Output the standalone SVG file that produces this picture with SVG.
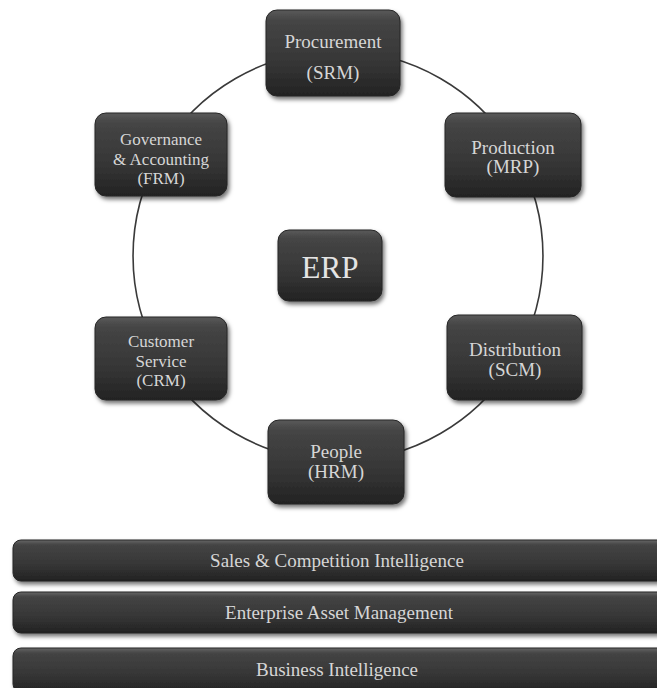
<svg xmlns="http://www.w3.org/2000/svg" width="657" height="688" viewBox="0 0 657 688">
  <defs>
    <linearGradient id="boxFill" x1="0" y1="0" x2="0" y2="1">
      <stop offset="0" stop-color="#5a5a5a"/>
      <stop offset="0.12" stop-color="#454545"/>
      <stop offset="0.6" stop-color="#363636"/>
      <stop offset="1" stop-color="#232323"/>
    </linearGradient>
    <linearGradient id="barFill" x1="0" y1="0" x2="0" y2="1">
      <stop offset="0" stop-color="#666666"/>
      <stop offset="0.12" stop-color="#444444"/>
      <stop offset="0.6" stop-color="#363636"/>
      <stop offset="1" stop-color="#222222"/>
    </linearGradient>
    <filter id="shadow" x="-10%" y="-10%" width="125%" height="130%">
      <feDropShadow dx="2" dy="3" stdDeviation="2.2" flood-color="#000" flood-opacity="0.55"/>
    </filter>
    <style>
      .box { fill: url(#boxFill); stroke: #262626; stroke-width: 1; filter: url(#shadow); }
      .bar { fill: url(#barFill); stroke: #262626; stroke-width: 1; filter: url(#shadow); }
      .label { font-family: "Liberation Serif", "Times New Roman", serif; font-size: 19px; fill: #d6d6d6; text-anchor: middle; }
      .small { font-size: 17px; }
      .big { font-size: 31px; fill: #e4e4e4; }
      .ring { fill: none; stroke: #3a3a3a; stroke-width: 1.6; }
    </style>
  </defs>

  <rect width="657" height="688" fill="#ffffff"/>

  <!-- ring linking the module boxes -->
  <g id="connectors">
    <path class="ring" d="M338 51 A205 205 0 0 1 515.5 153.5"/>
    <path class="ring" d="M515.5 153.5 A205 205 0 0 1 515.5 358.5"/>
    <path class="ring" d="M515.5 358.5 A205 205 0 0 1 338 461"/>
    <path class="ring" d="M338 461 A205 205 0 0 1 160.5 358.5"/>
    <path class="ring" d="M160.5 358.5 A205 205 0 0 1 160.5 153.5"/>
    <path class="ring" d="M160.5 153.5 A205 205 0 0 1 338 51"/>
  </g>

  <g id="procurement">
    <rect class="box" x="266" y="10" width="134" height="86" rx="11"/>
    <text class="label" x="333" y="48">Procurement</text>
    <text class="label" x="333" y="79">(SRM)</text>
  </g>

  <g id="production">
    <rect class="box" x="445" y="113" width="136" height="84" rx="11"/>
    <text class="label" x="513" y="154">Production</text>
    <text class="label" x="513" y="173">(MRP)</text>
  </g>

  <g id="governance">
    <rect class="box" x="95" y="113" width="132" height="83" rx="11"/>
    <text class="label small" x="161" y="145">Governance</text>
    <text class="label small" x="161" y="164.5">&amp; Accounting</text>
    <text class="label small" x="161" y="184">(FRM)</text>
  </g>

  <g id="erp">
    <rect class="box" x="278" y="230" width="104" height="71" rx="11"/>
    <text class="label big" x="330" y="278">ERP</text>
  </g>

  <g id="customer-service">
    <rect class="box" x="95" y="317" width="132" height="83" rx="11"/>
    <text class="label small" x="161" y="347">Customer</text>
    <text class="label small" x="161" y="366.5">Service</text>
    <text class="label small" x="161" y="386">(CRM)</text>
  </g>

  <g id="distribution">
    <rect class="box" x="447" y="315" width="135" height="85" rx="11"/>
    <text class="label" x="515" y="356">Distribution</text>
    <text class="label" x="515" y="376">(SCM)</text>
  </g>

  <g id="people">
    <rect class="box" x="268" y="420" width="136" height="84" rx="11"/>
    <text class="label" x="336" y="458">People</text>
    <text class="label" x="336" y="478">(HRM)</text>
  </g>

  <g id="sales-competition-intelligence">
    <rect class="bar" x="13" y="540" width="660" height="41" rx="8"/>
    <text class="label" x="337" y="567">Sales &amp; Competition Intelligence</text>
  </g>

  <g id="enterprise-asset-management">
    <rect class="bar" x="13" y="592" width="660" height="41" rx="8"/>
    <text class="label" x="339" y="619">Enterprise Asset Management</text>
  </g>

  <g id="business-intelligence">
    <rect class="bar" x="13" y="648" width="660" height="44" rx="8"/>
    <text class="label" x="337" y="676">Business Intelligence</text>
  </g>
</svg>
